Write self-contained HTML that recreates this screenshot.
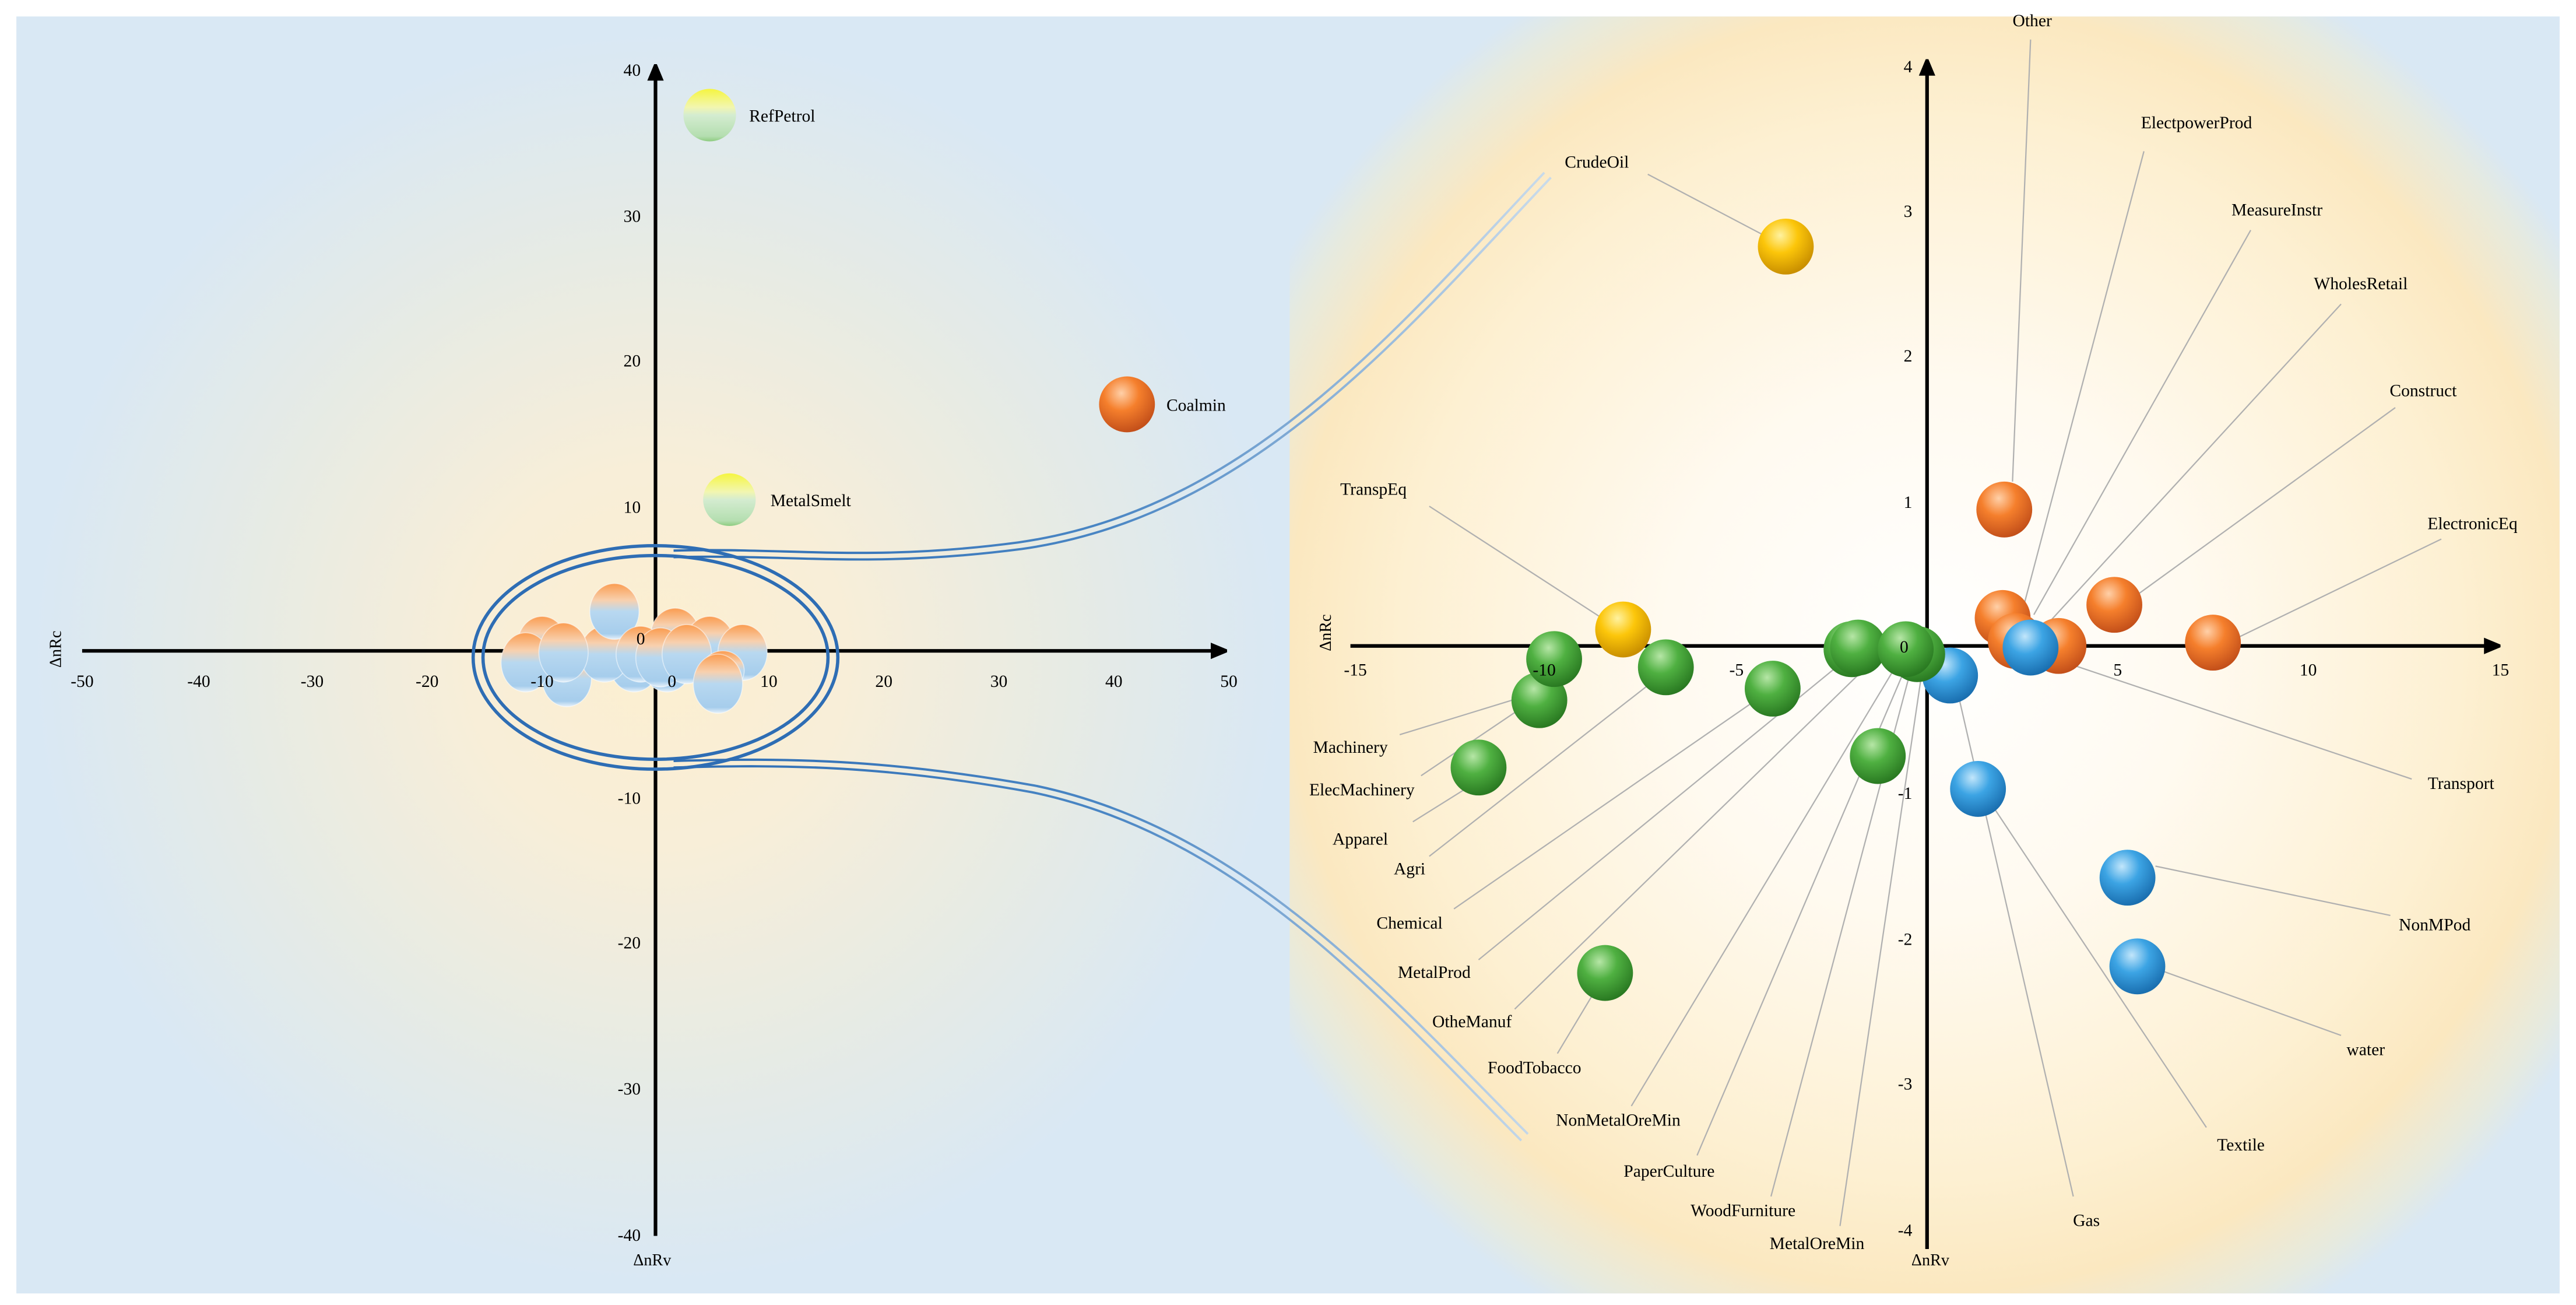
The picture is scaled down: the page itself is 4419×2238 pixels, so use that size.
<!DOCTYPE html>
<html><head><meta charset="utf-8"><style>html,body{margin:0;padding:0;background:#fff}svg{display:block}text{font-family:"Liberation Serif",serif}</style></head><body>
<svg width="4419" height="2238" viewBox="0 0 1568 794" xmlns="http://www.w3.org/2000/svg" style="font-family:'Liberation Serif',serif" font-size="10.5">
<defs>
<radialGradient id="lg" cx="400" cy="400" r="380" gradientUnits="userSpaceOnUse">
<stop offset="0" stop-color="#fcefd0"/><stop offset="0.3" stop-color="#f8eed8"/><stop offset="0.65" stop-color="#e7ebe4"/><stop offset="1" stop-color="#d9e8f4"/></radialGradient>
<radialGradient id="rg" cx="1175" cy="395" r="460" gradientUnits="userSpaceOnUse">
<stop offset="0" stop-color="#ffffff"/><stop offset="0.35" stop-color="#fffaf0"/><stop offset="0.7" stop-color="#fdf0d2"/><stop offset="0.85" stop-color="#fbe8c0"/><stop offset="0.95" stop-color="#e6eadf"/><stop offset="1" stop-color="#d9e8f4"/></radialGradient>
<radialGradient id="gG" cx="0.4" cy="0.3" r="0.7"><stop offset="0" stop-color="#b6e6a6"/><stop offset="0.45" stop-color="#4fb041"/><stop offset="1" stop-color="#2a7a22"/></radialGradient>
<radialGradient id="gO" cx="0.4" cy="0.3" r="0.7"><stop offset="0" stop-color="#ffd0a8"/><stop offset="0.45" stop-color="#f57f2c"/><stop offset="1" stop-color="#c4501a"/></radialGradient>
<radialGradient id="gB" cx="0.4" cy="0.3" r="0.7"><stop offset="0" stop-color="#c2e6fb"/><stop offset="0.45" stop-color="#3ca4e4"/><stop offset="1" stop-color="#1a6fb0"/></radialGradient>
<radialGradient id="gY" cx="0.4" cy="0.3" r="0.7"><stop offset="0" stop-color="#fff2a0"/><stop offset="0.45" stop-color="#fcc60a"/><stop offset="1" stop-color="#c98f00"/></radialGradient>
<linearGradient id="gC" x1="0" y1="0" x2="0" y2="1"><stop offset="0" stop-color="#fa9c50"/><stop offset="0.3" stop-color="#f8d0ae"/><stop offset="0.5" stop-color="#b8d8f0"/><stop offset="0.9" stop-color="#a6cdec"/><stop offset="1" stop-color="#e8f2fa"/></linearGradient>
<linearGradient id="gP" x1="0" y1="0" x2="0" y2="1"><stop offset="0" stop-color="#f5f540"/><stop offset="0.35" stop-color="#f2f6b0"/><stop offset="0.5" stop-color="#d4ecd0"/><stop offset="0.9" stop-color="#b4deb0"/><stop offset="1" stop-color="#8ecc80"/></linearGradient>
<linearGradient id="fadeT" x1="410" y1="0" x2="940" y2="0" gradientUnits="userSpaceOnUse"><stop offset="0" stop-color="#2e6db4"/><stop offset="0.5" stop-color="#4a86c4"/><stop offset="1" stop-color="#c8daea"/></linearGradient>
<marker id="ar" markerWidth="10" markerHeight="10" refX="9" refY="5" orient="auto" markerUnits="userSpaceOnUse"><path d="M0,0 L12,5 L0,10 z" fill="#000"/></marker>
</defs>
<rect x="0" y="0" width="1568" height="794" fill="#fff"/>
<rect x="10" y="10" width="1548" height="777" fill="#d9e8f4"/>
<rect x="10" y="10" width="775" height="777" fill="url(#lg)"/>
<rect x="785" y="10" width="773" height="777" fill="url(#rg)"/>

<g fill="none" stroke="url(#fadeT)" stroke-width="1.4">
<path d="M410,335 C480,333 530,342 620,330 C760,310 850,200 940,105"/>
<path d="M410,339 C480,337 530,346 622,334 C762,314 853,204 944,108"/>
<path d="M410,463 C480,461 540,462 630,478 C760,505 850,610 930,690"/>
<path d="M410,467 C480,465 540,466 628,482 C758,509 846,614 926,694"/>
</g>

<line x1="50" y1="396" x2="746" y2="396" stroke="#000" stroke-width="2.2" marker-end="url(#ar)"/>
<line x1="399" y1="752" x2="399" y2="40" stroke="#000" stroke-width="2.2" marker-end="url(#ar)"/>
<g text-anchor="middle">
<text x="50" y="418">-50</text><text x="121" y="418">-40</text><text x="190" y="418">-30</text><text x="260" y="418">-20</text><text x="330" y="418">-10</text><text x="399" y="418">0</text><text x="468" y="418">10</text><text x="538" y="418">20</text><text x="608" y="418">30</text><text x="678" y="418">40</text><text x="748" y="418">50</text>
</g>
<g text-anchor="end">
<text x="390" y="46">40</text><text x="390" y="135">30</text><text x="390" y="223">20</text><text x="390" y="312">10</text><text x="392" y="388">0</text><text x="390" y="489">-10</text><text x="390" y="577">-20</text><text x="390" y="666">-30</text><text x="390" y="755">-40</text>
</g>
<text transform="translate(37,395) rotate(-90)" text-anchor="middle" font-size="10">ΔnRc</text>
<text x="397" y="770" text-anchor="middle" font-size="10">ΔnRv</text>

<circle cx="432" cy="70" r="16" fill="url(#gP)"/><text x="456" y="74">RefPetrol</text>
<circle cx="444" cy="304" r="16" fill="url(#gP)"/><text x="469" y="308">MetalSmelt</text>
<circle cx="686" cy="246" r="17" fill="url(#gO)"/><text x="710" y="250">Coalmin</text>

<g fill="url(#gC)" stroke="#ffffff" stroke-opacity="0.5" stroke-width="0.6">
<ellipse cx="330" cy="392" rx="15" ry="17"/><ellipse cx="411" cy="387" rx="15" ry="17"/><ellipse cx="432" cy="392" rx="15" ry="17"/>
<ellipse cx="345" cy="413" rx="15" ry="17"/><ellipse cx="386" cy="404" rx="15" ry="17"/><ellipse cx="406" cy="404" rx="15" ry="17"/>
<ellipse cx="368" cy="398" rx="15" ry="17"/><ellipse cx="320" cy="403" rx="15" ry="18"/><ellipse cx="343" cy="397" rx="15" ry="18"/>
<ellipse cx="374" cy="372" rx="15" ry="17"/><ellipse cx="390" cy="398" rx="15" ry="17"/><ellipse cx="402" cy="400" rx="15" ry="18"/>
<ellipse cx="418" cy="398" rx="15" ry="18"/><ellipse cx="452" cy="397" rx="15" ry="17"/><ellipse cx="440" cy="408" rx="13" ry="12"/>
<ellipse cx="437" cy="416" rx="15" ry="18"/>
</g>
<text x="330" y="418" text-anchor="middle">-10</text><text x="409" y="418" text-anchor="middle">0</text><text x="390" y="392" text-anchor="middle">0</text>
<g fill="none" stroke="#2e6db4" stroke-width="2">
<ellipse cx="399" cy="400" rx="111" ry="68"/><ellipse cx="399" cy="400" rx="105" ry="62"/>
</g>

<line x1="822" y1="393" x2="1521" y2="393" stroke="#000" stroke-width="2.2" marker-end="url(#ar)"/>
<line x1="1173" y1="760" x2="1173" y2="37" stroke="#000" stroke-width="2.2" marker-end="url(#ar)"/>
<g text-anchor="middle">
<text x="825" y="411">-15</text><text x="940" y="411">-10</text><text x="1057" y="411">-5</text><text x="1175" y="411">0</text><text x="1289" y="411">5</text><text x="1405" y="411">10</text><text x="1522" y="411">15</text>
</g>
<g text-anchor="end">
<text x="1164" y="44">4</text><text x="1164" y="132">3</text><text x="1164" y="220">2</text><text x="1164" y="309">1</text><text x="1164" y="486">-1</text><text x="1164" y="575">-2</text><text x="1164" y="663">-3</text><text x="1164" y="752">-4</text>
</g>
<text transform="translate(810,385) rotate(-90)" text-anchor="middle" font-size="10">ΔnRc</text>
<text x="1175" y="770" text-anchor="middle" font-size="10">ΔnRv</text>

<g stroke="#b0b0b0" stroke-width="0.8" fill="none">
<line x1="1236" y1="24" x2="1225" y2="293"/>
<line x1="1305" y1="92" x2="1232" y2="368"/>
<line x1="1370" y1="140" x2="1238" y2="374"/>
<line x1="1425" y1="185" x2="1246" y2="380"/>
<line x1="1458" y1="248" x2="1298" y2="364"/>
<line x1="1486" y1="328" x2="1362" y2="388"/>
<line x1="1468" y1="474" x2="1248" y2="400"/>
<line x1="1455" y1="557" x2="1312" y2="527"/>
<line x1="1425" y1="630" x2="1314" y2="590"/>
<line x1="1343" y1="686" x2="1208" y2="483"/>
<line x1="1262" y1="728" x2="1190" y2="414"/>
<line x1="1003" y1="106" x2="1083" y2="148"/>
<line x1="870" y1="308" x2="975" y2="376"/>
<line x1="852" y1="447" x2="940" y2="420"/>
<line x1="865" y1="472" x2="945" y2="418"/>
<line x1="860" y1="500" x2="908" y2="470"/>
<line x1="870" y1="521" x2="1012" y2="410"/>
<line x1="885" y1="553" x2="1076" y2="421"/>
<line x1="900" y1="584" x2="1125" y2="400"/>
<line x1="922" y1="614" x2="1142" y2="400"/>
<line x1="948" y1="641" x2="975" y2="596"/>
<line x1="993" y1="673" x2="1156" y2="402"/>
<line x1="1033" y1="703" x2="1160" y2="406"/>
<line x1="1078" y1="728" x2="1163" y2="408"/>
<line x1="1120" y1="746" x2="1170" y2="408"/>
</g>

<circle cx="1087" cy="150" r="17" fill="url(#gY)"/>
<circle cx="1220" cy="310" r="17" fill="url(#gO)"/>
<circle cx="1287" cy="368" r="17" fill="url(#gO)"/>
<circle cx="1219" cy="376" r="17" fill="url(#gO)"/>
<circle cx="1253" cy="393" r="17" fill="url(#gO)"/>
<circle cx="1227" cy="390" r="17" fill="url(#gO)"/>
<circle cx="1347" cy="391" r="17" fill="url(#gO)"/>
<circle cx="1236" cy="394" r="17" fill="url(#gB)"/>
<circle cx="1187" cy="411" r="17" fill="url(#gB)"/>
<circle cx="1204" cy="480" r="17" fill="url(#gB)"/>
<circle cx="1295" cy="534" r="17" fill="url(#gB)"/>
<circle cx="1301" cy="588" r="17" fill="url(#gB)"/>
<circle cx="1014" cy="406" r="17" fill="url(#gG)"/>
<circle cx="937" cy="426" r="17" fill="url(#gG)"/>
<circle cx="946" cy="401" r="17" fill="url(#gG)"/>
<circle cx="988" cy="383" r="17" fill="url(#gY)"/>
<circle cx="900" cy="467" r="17" fill="url(#gG)"/>
<circle cx="1079" cy="419" r="17" fill="url(#gG)"/>
<circle cx="1127" cy="395" r="17" fill="url(#gG)"/>
<circle cx="1131" cy="394" r="17" fill="url(#gG)"/>
<circle cx="1167" cy="398" r="17" fill="url(#gG)"/>
<circle cx="1160" cy="395" r="17" fill="url(#gG)"/>
<circle cx="1143" cy="460" r="17" fill="url(#gG)"/>
<circle cx="977" cy="592" r="17" fill="url(#gG)"/>
<text x="940" y="411" text-anchor="middle">-10</text>
<text x="1159" y="397" text-anchor="middle">0</text>

<g>
<text x="1237" y="16" text-anchor="middle">Other</text>
<text x="1337" y="78" text-anchor="middle">ElectpowerProd</text>
<text x="1386" y="131" text-anchor="middle">MeasureInstr</text>
<text x="1437" y="176" text-anchor="middle">WholesRetail</text>
<text x="1475" y="241" text-anchor="middle">Construct</text>
<text x="1505" y="322" text-anchor="middle">ElectronicEq</text>
<text x="1498" y="480" text-anchor="middle">Transport</text>
<text x="1482" y="566" text-anchor="middle">NonMPod</text>
<text x="1440" y="642" text-anchor="middle">water</text>
<text x="1364" y="700" text-anchor="middle">Textile</text>
<text x="1270" y="746" text-anchor="middle">Gas</text>
<text x="972" y="102" text-anchor="middle">CrudeOil</text>
<text x="836" y="301" text-anchor="middle">TranspEq</text>
<text x="822" y="458" text-anchor="middle">Machinery</text>
<text x="829" y="484" text-anchor="middle">ElecMachinery</text>
<text x="828" y="514" text-anchor="middle">Apparel</text>
<text x="858" y="532" text-anchor="middle">Agri</text>
<text x="858" y="565" text-anchor="middle">Chemical</text>
<text x="873" y="595" text-anchor="middle">MetalProd</text>
<text x="896" y="625" text-anchor="middle">OtheManuf</text>
<text x="934" y="653" text-anchor="middle">FoodTobacco</text>
<text x="985" y="685" text-anchor="middle">NonMetalOreMin</text>
<text x="1016" y="716" text-anchor="middle">PaperCulture</text>
<text x="1061" y="740" text-anchor="middle">WoodFurniture</text>
<text x="1106" y="760" text-anchor="middle">MetalOreMin</text>
</g>
</svg>
</body></html>
